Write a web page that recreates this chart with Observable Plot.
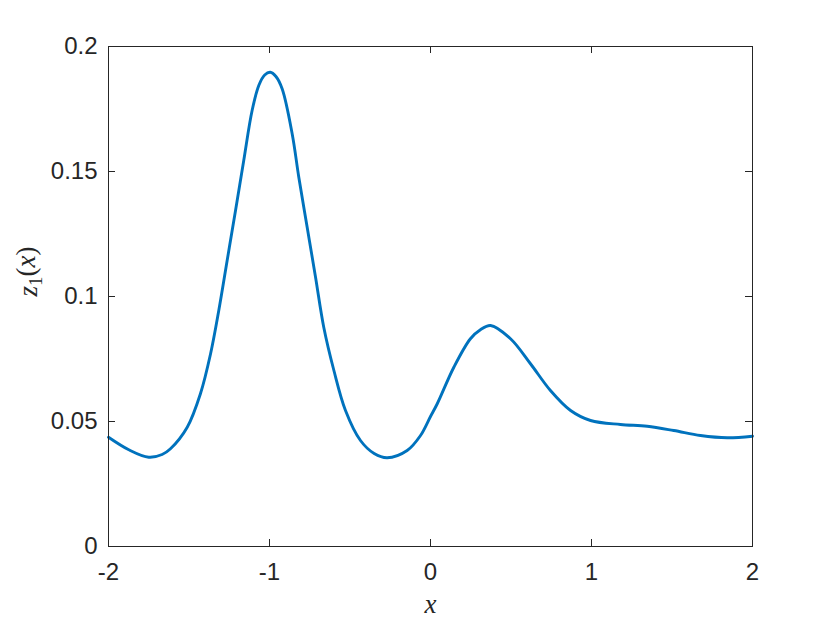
<!DOCTYPE html>
<html>
<head>
<meta charset="utf-8">
<script src="https://cdn.jsdelivr.net/npm/d3@7"></script>
<script src="https://cdn.jsdelivr.net/npm/@observablehq/plot@0.6"></script>
<style>
  html, body { margin: 0; padding: 0; background: #fff; }
  #chart { width: 830px; height: 623px; }
</style>
</head>
<body>
<div id="chart"></div>
<script>
const xValues = [-2.00, -1.874, -1.75, -1.667, -1.615, -1.511, -1.429, -1.366, -1.315, -1.263, -1.211, -1.16, -1.108, -1.066, -1.03, -0.995, -0.96, -0.921, -0.859, -0.818, -0.766, -0.714, -0.663, -0.60, -0.528, -0.435, -0.35, -0.269, -0.145, -0.062, 0.0, 0.042, 0.145, 0.248, 0.31, 0.373, 0.497, 0.621, 0.745, 0.87, 0.994, 1.18, 1.346, 1.511, 1.677, 1.843, 2.0];
const zValues = [0.0437, 0.0387, 0.0357, 0.0368, 0.0391, 0.0477, 0.0611, 0.0771, 0.0944, 0.1144, 0.1344, 0.1544, 0.1744, 0.1845, 0.1886, 0.1897, 0.188, 0.183, 0.165, 0.1477, 0.1277, 0.1077, 0.0877, 0.0704, 0.0544, 0.0424, 0.0372, 0.0355, 0.0384, 0.0444, 0.052, 0.0571, 0.0717, 0.0831, 0.0867, 0.0884, 0.0831, 0.0731, 0.0624, 0.0544, 0.0504, 0.0488, 0.0481, 0.0464, 0.0444, 0.0435, 0.0441];
const xTicks = [-2, -1, 0, 1, 2];
const xTickLabels = ["-2", "-1", "0", "1", "2"];
const yTicks = [0, 0.05, 0.1, 0.15, 0.2];
const yTickLabels = ["0", "0.05", "0.1", "0.15", "0.2"];
const xLabel = "x";
const yLabel = "z1(x)";

const data = xValues.map((x, i) => ({x, z: zValues[i]}));

const W = 830, H = 623;
const mL = 108, mR = 78, mT = 46, mB = 77;
const plotW = W - mL - mR, plotH = H - mT - mB;
const tick = 7;
const axisColor = "#262626";

const chart = Plot.plot({
  width: W,
  height: H,
  marginLeft: mL,
  marginRight: mR,
  marginTop: mT,
  marginBottom: mB,
  style: {background: "#fff", fontFamily: "'Liberation Sans', Arial, Helvetica, sans-serif"},
  x: {domain: [-2, 2]},
  y: {domain: [0, 0.2]},
  marks: [
    Plot.line(data, {x: "x", y: "z", stroke: "#0072BD", strokeWidth: 2.9, curve: "catmull-rom"}),
    Plot.frame({stroke: axisColor, strokeWidth: 1}),
    // inward ticks (bottom, top, left, right)
    Plot.tickX(xTicks, {x: d => d, stroke: axisColor, insetTop: plotH - tick}),
    Plot.tickX(xTicks, {x: d => d, stroke: axisColor, insetBottom: plotH - tick}),
    Plot.tickY(yTicks, {y: d => d, stroke: axisColor, insetRight: plotW - tick}),
    Plot.tickY(yTicks, {y: d => d, stroke: axisColor, insetLeft: plotW - tick}),
    Plot.axisX({ticks: xTicks, tickFormat: d => xTickLabels[xTicks.indexOf(d)], tickSize: 0, tickPadding: 16, fontSize: 24, fill: axisColor, label: null}),
    Plot.axisY({ticks: yTicks, tickFormat: d => yTickLabels[yTicks.indexOf(d)], tickSize: 0, tickPadding: 11, fontSize: 24, fill: axisColor, label: null}),
    Plot.text([xLabel], {text: d => d, frameAnchor: "bottom", dy: 58, fontSize: 27, fill: axisColor, lineAnchor: "middle", fontFamily: "'Liberation Serif', 'Times New Roman', serif", fontStyle: "italic"}),
    Plot.text([yLabel], {text: d => d, frameAnchor: "left", dx: -80, rotate: -90, fontSize: 27, fill: axisColor, lineAnchor: "middle", fontFamily: "'Liberation Serif', 'Times New Roman', serif"})
  ]
});

document.getElementById("chart").appendChild(chart);

// Style the y label like LaTeX: italic z and x, upright subscript and parentheses
d3.select(chart).selectAll("text").filter(function() { return this.textContent === yLabel; }).each(function() {
  const t = d3.select(this);
  t.text(null);
  t.append("tspan").attr("font-style", "italic").text("z");
  t.append("tspan").attr("font-size", 19).attr("dy", "0.25em").text("1");
  t.append("tspan").attr("dy", "-0.25em").text("(");
  t.append("tspan").attr("font-style", "italic").text("x");
  t.append("tspan").text(")");
});
</script>
</body>
</html>
